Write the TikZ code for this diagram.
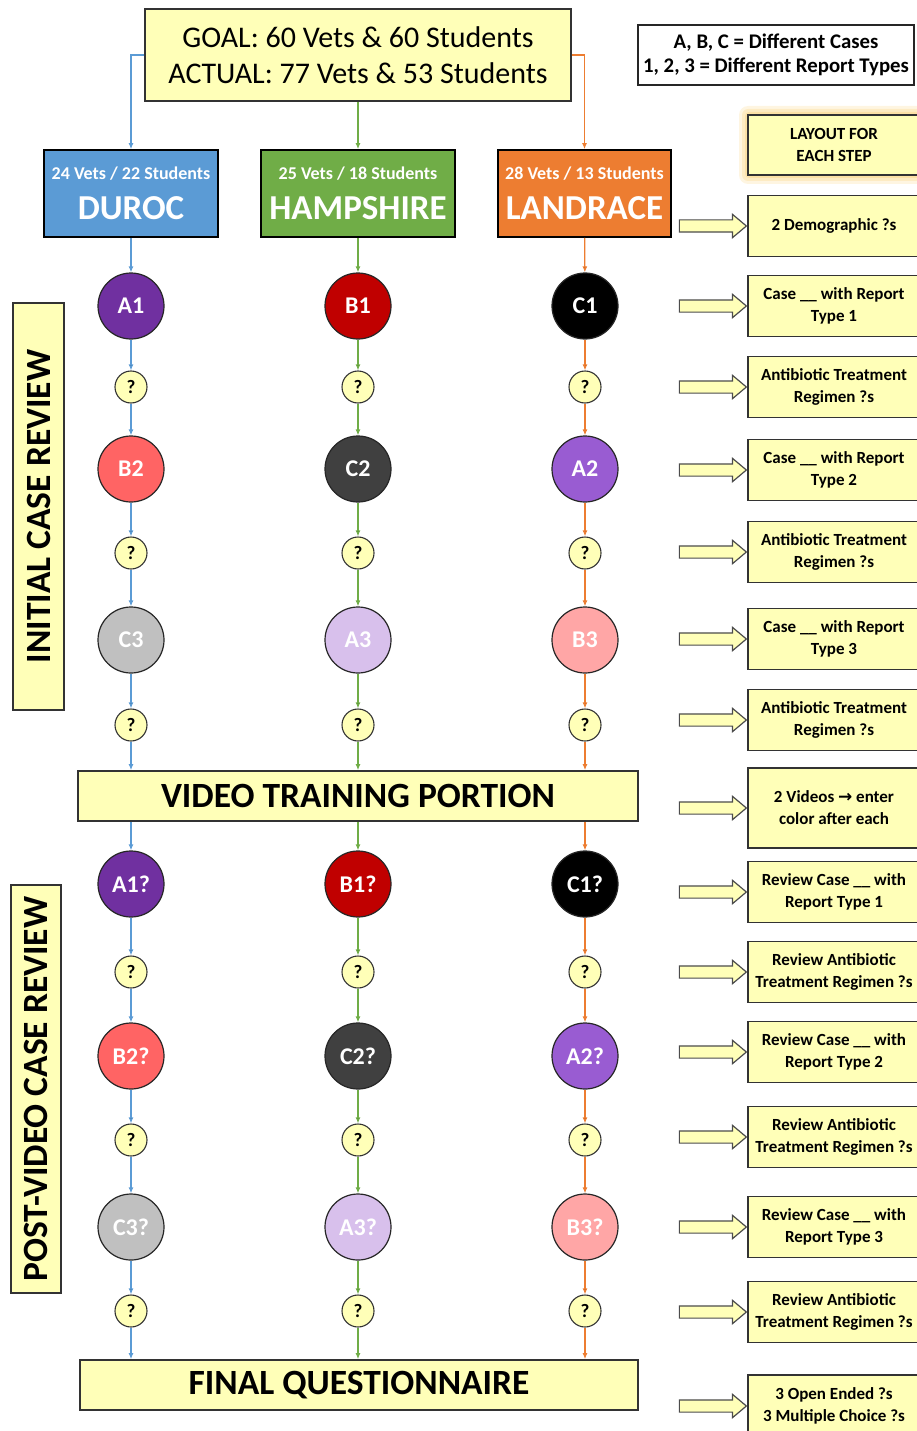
\documentclass[tikz,border=0pt]{standalone}
\usepackage{fontspec}
\setmainfont{Carlito}
\newfontfamily\symfont{DejaVu Sans}
\usepackage{xcolor}
\usepackage{tikz}
\usetikzlibrary{positioning,arrows.meta,shapes.arrows}
\definecolor{paleyellow}{RGB}{255,255,184}
\definecolor{glowtone}{RGB}{250,200,90}
\definecolor{durocblue}{RGB}{91,155,213}
\definecolor{hampgreen}{RGB}{112,173,71}
\definecolor{landorange}{RGB}{237,125,49}
\definecolor{caseAone}{RGB}{112,48,160}
\definecolor{caseBone}{RGB}{192,0,0}
\definecolor{caseCone}{RGB}{0,0,0}
\definecolor{caseAtwo}{RGB}{153,92,210}
\definecolor{caseBtwo}{RGB}{255,100,100}
\definecolor{caseCtwo}{RGB}{64,64,64}
\definecolor{caseAthree}{RGB}{216,192,236}
\definecolor{caseBthree}{RGB}{255,166,166}
\definecolor{caseCthree}{RGB}{192,192,192}
\tikzset{
    yellowbox/.style={draw=black!80, fill=paleyellow, line width=1.6pt, align=center, inner sep=0pt},
    breed/.style={draw=black, line width=1.6pt, minimum height=87, align=center, inner sep=0pt,
        text=white, font=\bfseries\fontsize{35}{40}\selectfont},
    casenode/.style={circle, draw=black!85, line width=1.2pt, minimum size=66, inner sep=0pt,
        text=white, font=\bfseries\fontsize{24}{26}\selectfont},
    quest/.style={circle, draw=black!80, fill=paleyellow, line width=1.1pt, minimum size=32, inner sep=0pt,
        font=\bfseries\fontsize{19}{20}\selectfont},
    stepbox/.style={yellowbox, line width=1.4pt, minimum width=172, minimum height=61,
        font=\bfseries\fontsize{17}{22}\selectfont},
    pointer/.style={single arrow, draw=black!70, fill=paleyellow, line width=1.2pt, minimum height=67,
        minimum width=22, single arrow head extend=5.5, single arrow tip angle=80,
        inner xsep=0pt, inner ysep=5.5pt},
    sidelabel/.style={yellowbox, rotate=90, line width=1.4pt, font=\bfseries\fontsize{35.5}{38}\selectfont},
    linkduroc/.style={->, draw=durocblue, line width=1.2pt},
    linkhamp/.style={->, draw=hampgreen, line width=1.2pt},
    linkland/.style={->, draw=landorange, line width=1.2pt}
}
\begin{document}
\begin{tikzpicture}[x=1pt, y=-1pt, >={Latex[length=6pt,width=5pt]}]
    \useasboundingbox (0,0) rectangle (916,1431);
    % cabecera
    \node[yellowbox, minimum width=426, minimum height=92, font=\fontsize{30}{36}\selectfont] (goal) at (358,55)
        {GOAL: 60 Vets \& 60 Students\\ACTUAL: 77 Vets \& 53 Students};
    \node[draw=black!85, fill=white, line width=1.4pt, minimum width=276, minimum height=60, align=center, inner sep=0pt,
        font=\bfseries\fontsize{20.8}{24}\selectfont] (legend) at (776,55)
        {A, B, C = Different Cases\\1, 2, 3 = Different Report Types};
    % razas
    \node[breed, fill=durocblue, minimum width=174] (duroc) at (131,193.5)
        {{\fontsize{18}{20}\selectfont 24 Vets / 22 Students}\\DUROC};
    \node[breed, fill=hampgreen, minimum width=194] (hamp) at (358,193.5)
        {{\fontsize{18}{20}\selectfont 25 Vets / 18 Students}\\HAMPSHIRE};
    \node[breed, fill=landorange, minimum width=173] (land) at (584.5,193.5)
        {{\fontsize{18}{20}\selectfont 28 Vets / 13 Students}\\LANDRACE};
    % bloques laterales
    \node[sidelabel, minimum width=407, minimum height=51] (initial) at (38.5,506.5) {INITIAL CASE REVIEW};
    \node[sidelabel, minimum width=408, minimum height=50] (postvideo) at (36,1089) {POST-VIDEO CASE REVIEW};
    % revision inicial
    \node[casenode, fill=caseAone] (a1) at (131,306) {A1};
    \node[casenode, fill=caseBone] (b1) at (358,306) {B1};
    \node[casenode, fill=caseCone] (c1) at (585,306) {C1};
    \node[quest] (qd1) at (131,387) {?};
    \node[quest] (qh1) at (358,387) {?};
    \node[quest] (ql1) at (585,387) {?};
    \node[casenode, fill=caseBtwo] (b2) at (131,469) {B2};
    \node[casenode, fill=caseCtwo] (c2) at (358,469) {C2};
    \node[casenode, fill=caseAtwo] (a2) at (585,469) {A2};
    \node[quest] (qd2) at (131,553) {?};
    \node[quest] (qh2) at (358,553) {?};
    \node[quest] (ql2) at (585,553) {?};
    \node[casenode, fill=caseCthree] (c3) at (131,640) {C3};
    \node[casenode, fill=caseAthree] (a3) at (358,640) {A3};
    \node[casenode, fill=caseBthree] (b3) at (585,640) {B3};
    \node[quest] (qd3) at (131,725) {?};
    \node[quest] (qh3) at (358,725) {?};
    \node[quest] (ql3) at (585,725) {?};
    \node[yellowbox, minimum width=560, minimum height=50, font=\bfseries\fontsize{35.5}{38}\selectfont] (video)
        at (358,796) {VIDEO TRAINING PORTION};
    % revision despues del video
    \node[casenode, fill=caseAone] (a1p) at (131,884) {A1?};
    \node[casenode, fill=caseBone] (b1p) at (358,884) {B1?};
    \node[casenode, fill=caseCone] (c1p) at (585,884) {C1?};
    \node[quest] (pd1) at (131,972) {?};
    \node[quest] (ph1) at (358,972) {?};
    \node[quest] (pl1) at (585,972) {?};
    \node[casenode, fill=caseBtwo] (b2p) at (131,1056) {B2?};
    \node[casenode, fill=caseCtwo] (c2p) at (358,1056) {C2?};
    \node[casenode, fill=caseAtwo] (a2p) at (585,1056) {A2?};
    \node[quest] (pd2) at (131,1140) {?};
    \node[quest] (ph2) at (358,1140) {?};
    \node[quest] (pl2) at (585,1140) {?};
    \node[casenode, fill=caseCthree] (c3p) at (131,1227) {C3?};
    \node[casenode, fill=caseAthree] (a3p) at (358,1227) {A3?};
    \node[casenode, fill=caseBthree] (b3p) at (585,1227) {B3?};
    \node[quest] (pd3) at (131,1311) {?};
    \node[quest] (ph3) at (358,1311) {?};
    \node[quest] (pl3) at (585,1311) {?};
    \node[yellowbox, minimum width=558, minimum height=50, font=\bfseries\fontsize{35.5}{38}\selectfont] (final)
        at (359,1385) {FINAL QUESTIONNAIRE};
    % columna duroc
    \draw[linkduroc] (goal.west) -| (duroc.north);
    \draw[linkduroc] (duroc) edge (a1) (a1) edge (qd1) (qd1) edge (b2) (b2) edge (qd2) (qd2) edge (c3) (c3) edge (qd3);
    \draw[linkduroc] (qd3) -- (qd3 |- video.north);
    \draw[linkduroc] (video.south -| a1p) -- (a1p);
    \draw[linkduroc] (a1p) edge (pd1) (pd1) edge (b2p) (b2p) edge (pd2) (pd2) edge (c3p) (c3p) edge (pd3);
    \draw[linkduroc] (pd3) -- (pd3 |- final.north);
    % columna hampshire
    \draw[linkhamp] (goal) -- (hamp);
    \draw[linkhamp] (hamp) edge (b1) (b1) edge (qh1) (qh1) edge (c2) (c2) edge (qh2) (qh2) edge (a3) (a3) edge (qh3);
    \draw[linkhamp] (qh3) -- (qh3 |- video.north);
    \draw[linkhamp] (video.south -| b1p) -- (b1p);
    \draw[linkhamp] (b1p) edge (ph1) (ph1) edge (c2p) (c2p) edge (ph2) (ph2) edge (a3p) (a3p) edge (ph3);
    \draw[linkhamp] (ph3) -- (ph3 |- final.north);
    % columna landrace
    \draw[linkland] (goal.east) -| (land.north);
    \draw[linkland] (land) edge (c1) (c1) edge (ql1) (ql1) edge (a2) (a2) edge (ql2) (ql2) edge (b3) (b3) edge (ql3);
    \draw[linkland] (ql3) -- (ql3 |- video.north);
    \draw[linkland] (video.south -| c1p) -- (c1p);
    \draw[linkland] (c1p) edge (pl1) (pl1) edge (a2p) (a2p) edge (pl2) (pl2) edge (b3p) (b3p) edge (pl3);
    \draw[linkland] (pl3) -- (pl3 |- final.north);
    % esquema de cada paso (brillo detras del titulo)
    \fill[glowtone, opacity=0.18, rounded corners=9] (739,106) rectangle (929,184);
    \fill[glowtone, opacity=0.22, rounded corners=6] (742,109) rectangle (926,181);
    \fill[glowtone, opacity=0.28, rounded corners=4] (745,112) rectangle (923,178);
    \node[stepbox, minimum height=60] (layout) at (834,145) {LAYOUT FOR\\EACH STEP};
    \node[stepbox] (s1) at (834,226) {2 Demographic ?s};
    \node[stepbox] (s2) at (834,306) {Case \_\_ with Report\\Type 1};
    \node[stepbox] (s3) at (834,387) {Antibiotic Treatment\\Regimen ?s};
    \node[stepbox] (s4) at (834,470) {Case \_\_ with Report\\Type 2};
    \node[stepbox] (s5) at (834,552) {Antibiotic Treatment\\Regimen ?s};
    \node[stepbox] (s6) at (834,639) {Case \_\_ with Report\\Type 3};
    \node[stepbox] (s7) at (834,720) {Antibiotic Treatment\\Regimen ?s};
    \node[stepbox, minimum height=80] (s8) at (834,808) {2 Videos {\symfont →} enter\\color after each};
    \node[stepbox] (s9) at (834,892) {Review Case \_\_ with\\Report Type 1};
    \node[stepbox] (s10) at (834,972) {Review Antibiotic\\Treatment Regimen ?s};
    \node[stepbox] (s11) at (834,1052) {Review Case \_\_ with\\Report Type 2};
    \node[stepbox] (s12) at (834,1137) {Review Antibiotic\\Treatment Regimen ?s};
    \node[stepbox] (s13) at (834,1227) {Review Case \_\_ with\\Report Type 3};
    \node[stepbox] (s14) at (834,1312) {Review Antibiotic\\Treatment Regimen ?s};
    \node[stepbox, minimum height=62] (s15) at (834,1406) {3 Open Ended ?s\\3 Multiple Choice ?s};
    % flechas hacia cada paso
    \node[pointer, left=0pt of s1] (p1) {};
    \node[pointer, left=0pt of s2] (p2) {};
    \node[pointer, left=0pt of s3] (p3) {};
    \node[pointer, left=0pt of s4] (p4) {};
    \node[pointer, left=0pt of s5] (p5) {};
    \node[pointer, left=0pt of s6] (p6) {};
    \node[pointer, left=0pt of s7] (p7) {};
    \node[pointer, left=0pt of s8] (p8) {};
    \node[pointer, left=0pt of s9] (p9) {};
    \node[pointer, left=0pt of s10] (p10) {};
    \node[pointer, left=0pt of s11] (p11) {};
    \node[pointer, left=0pt of s12] (p12) {};
    \node[pointer, left=0pt of s13] (p13) {};
    \node[pointer, left=0pt of s14] (p14) {};
    \node[pointer, left=0pt of s15] (p15) {};
\end{tikzpicture}
\end{document}
